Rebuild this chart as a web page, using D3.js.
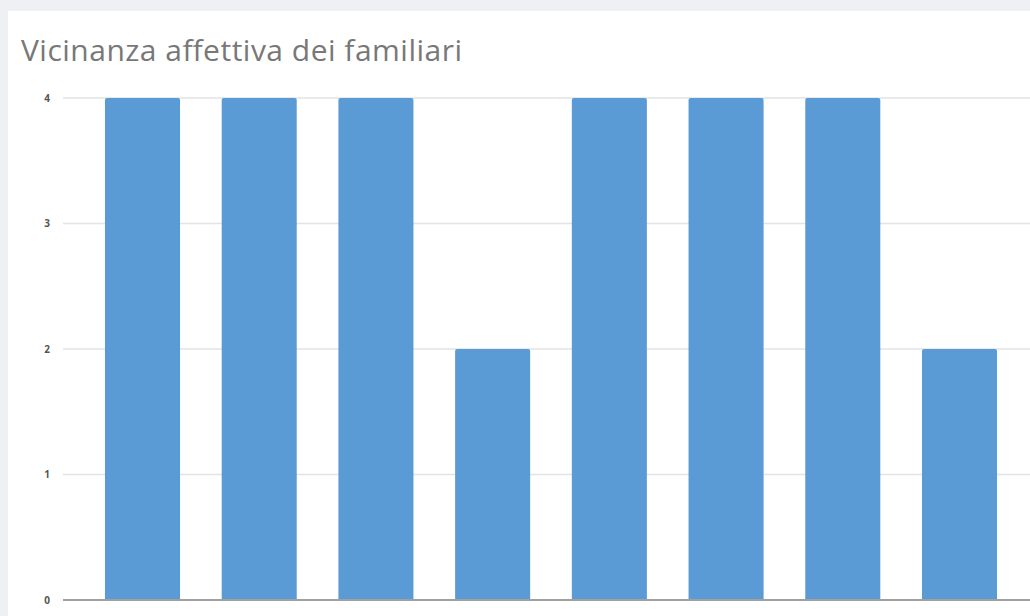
<!DOCTYPE html>
<html>
<head>
<meta charset="utf-8">
<script src="https://cdn.jsdelivr.net/npm/d3@7"></script>
<style>
  html, body { margin: 0; padding: 0; background: #eef0f3; }
  svg { display: block; }
</style>
</head>
<body>
<svg id="chart" width="1030" height="616"></svg>
<script>
// Closeness rating given to each family member (scale 0–4)
const categories = ["Familiare 1", "Familiare 2", "Familiare 3", "Familiare 4",
                    "Familiare 5", "Familiare 6", "Familiare 7", "Familiare 8"];
const values = [4, 4, 4, 2, 4, 4, 4, 2];
const yTicks = [0, 1, 2, 3, 4];
const title = "Vicinanza affettiva dei familiari";

const W = 1030, H = 616;
const svg = d3.select("#chart");

// white card
svg.append("rect")
  .attr("x", 8).attr("y", 11)
  .attr("width", W - 8).attr("height", H - 11)
  .attr("fill", "#ffffff");

svg.append("text")
  .attr("x", 21).attr("y", 61)
  .attr("font-family", "'Open Sans', sans-serif")
  .attr("font-size", 30)
  .attr("textLength", 441)
  .attr("lengthAdjust", "spacing")
  .attr("fill", "#787878")
  .text(title);

const plotLeft = 63, plotRight = 1030;
const y = d3.scaleLinear().domain([0, 4]).range([600, 98]);
const x = d3.scaleBand()
  .domain(categories)
  .range([84.2, 1017.8])
  .paddingInner(0.357)
  .paddingOuter(0.178);

// horizontal gridlines
svg.append("g")
  .selectAll("line")
  .data(yTicks.filter(t => t > 0))
  .join("line")
  .attr("x1", plotLeft).attr("x2", plotRight)
  .attr("y1", d => y(d)).attr("y2", d => y(d))
  .attr("stroke", "#e3e3e3")
  .attr("stroke-width", 1.5);

// y axis labels
const yAxis = d3.axisLeft(y).tickValues(yTicks).tickSize(0).tickPadding(0).tickFormat(d3.format("d"));
const gy = svg.append("g").attr("transform", `translate(${plotLeft - 13},0)`).call(yAxis);
gy.select(".domain").remove();
gy.selectAll("text")
  .attr("font-family", "'Open Sans', sans-serif")
  .attr("font-size", 10)
  .attr("font-weight", "bold")
  .attr("fill", "#555");

// bars
svg.append("g")
  .selectAll("path")
  .data(values)
  .join("path")
  .attr("fill", "#5b9bd5")
  .attr("d", (d, i) => {
    const x0 = x(categories[i]), w = x.bandwidth();
    const yt = y(d), yb = y(0), r = 2;
    return `M${x0},${yb}V${yt + r}Q${x0},${yt} ${x0 + r},${yt}H${x0 + w - r}Q${x0 + w},${yt} ${x0 + w},${yt + r}V${yb}Z`;
  });

// baseline
svg.append("line")
  .attr("x1", plotLeft).attr("x2", plotRight)
  .attr("y1", y(0)).attr("y2", y(0))
  .attr("stroke", "#a0a0a0")
  .attr("stroke-width", 2);
</script>
</body>
</html>
